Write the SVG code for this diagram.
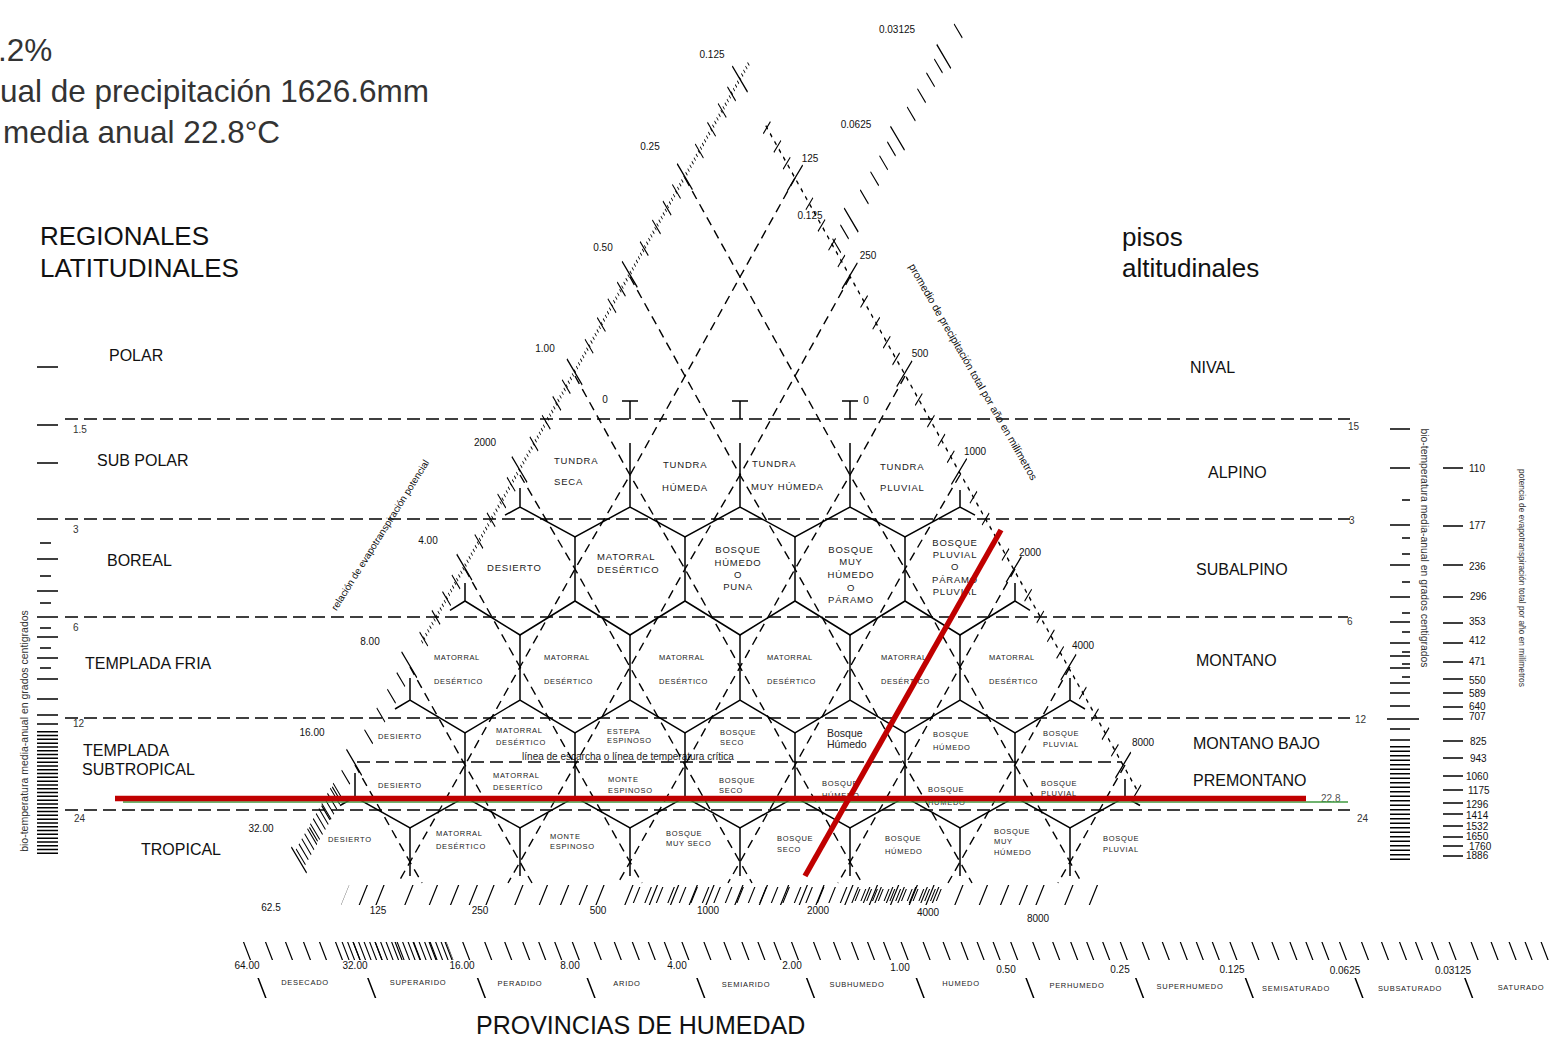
<svg xmlns="http://www.w3.org/2000/svg" width="1560" height="1038" viewBox="0 0 1560 1038">
<style>
text{font-family:"Liberation Sans",Arial,sans-serif;fill:#111;stroke:none}
.top{font-size:31.5px;fill:#333}
.big{font-size:26px}
.reg{font-size:16px}
.num{font-size:10px;fill:#333}
.h1{font-size:9.5px;letter-spacing:.8px;fill:#222}
.h3{font-size:7.5px;letter-spacing:.6px;fill:#222}
.h4{font-size:7.5px;letter-spacing:.7px;fill:#222}
.bh{font-size:10.5px;fill:#222}
.hum{font-size:7.5px;letter-spacing:.7px;fill:#222;text-anchor:middle}
.m{text-anchor:middle}
.hex{fill:none;stroke:#000;stroke-width:1.5}
.lat{fill:none;stroke:#000;stroke-width:1.4;stroke-dasharray:9 6}
.hd{fill:none;stroke:#000;stroke-width:1.6;stroke-dasharray:13 6}
.tk{fill:none;stroke:#000}
</style>
<rect width="1560" height="1038" fill="#fff"/>

<g id="info">
<text class="top" x="-2" y="61">.2%</text>
<text class="top" x="0" y="102">ual de precipitación 1626.6mm</text>
<text class="top" x="3" y="143">media anual 22.8°C</text>
</g>

<g id="titles">
<text class="big" x="40" y="245">REGIONALES</text>
<text class="big" x="40" y="277">LATITUDINALES</text>
<text class="big" x="1122" y="246">pisos</text>
<text class="big" x="1122" y="277">altitudinales</text>
<text x="476" y="1034" style="font-size:25px">PROVINCIAS DE HUMEDAD</text>
</g>

<g id="regions-left">
<text class="reg" x="109" y="361">POLAR</text>
<text class="reg" x="97" y="466">SUB POLAR</text>
<text class="reg" x="107" y="566">BOREAL</text>
<text class="reg" x="85" y="669">TEMPLADA FRIA</text>
<text class="reg" x="83" y="756">TEMPLADA</text>
<text class="reg" x="82" y="775">SUBTROPICAL</text>
<text class="reg" x="141" y="855">TROPICAL</text>
</g>
<g id="regions-right">
<text class="reg" x="1190" y="373">NIVAL</text>
<text class="reg" x="1208" y="478">ALPINO</text>
<text class="reg" x="1196" y="575">SUBALPINO</text>
<text class="reg" x="1196" y="666">MONTANO</text>
<text class="reg" x="1193" y="749">MONTANO BAJO</text>
<text class="reg" x="1193" y="786">PREMONTANO</text>
</g>

<g id="bands">
<line class="hd" x1="65" y1="419" x2="1350" y2="419"/>
<line class="hd" x1="65" y1="519" x2="1350" y2="519"/>
<line class="hd" x1="65" y1="617" x2="1348" y2="617"/>
<line class="hd" x1="65" y1="718" x2="1350" y2="718"/>
<line class="hd" x1="65" y1="810" x2="1350" y2="810"/>
<line class="hd" x1="357" y1="762" x2="1122" y2="762"/>
<text class="num" x="73" y="433">1.5</text>
<text class="num" x="73" y="533">3</text>
<text class="num" x="73" y="631">6</text>
<text class="num" x="73" y="727">12</text>
<text class="num" x="74" y="822">24</text>
<text class="num" x="1348" y="430">15</text>
<text class="num" x="1349" y="524">3</text>
<text class="num" x="1347" y="625">6</text>
<text class="num" x="1355" y="723">12</text>
<text class="num" x="1357" y="822">24</text>
<text x="628" y="760" style="font-size:10px;text-anchor:middle;fill:#222">línea de escarcha o línea de temperatura crítica</text>
</g>

<g id="scale-left">
<path class="tk" stroke-width="1.6" d="M37 367H58M37 425H58M37 463H58M37 519H58M37 559H58M37 591H58M37 617H58M37 637H58M37 658H58M37 679H58M37 699H58M37 715H58M37 724H58M40 543H51M40 576H51M40 603H51M40 628H51M40 648H51M40 668H51"/>
<line class="tk" x1="47.5" y1="731" x2="47.5" y2="854" stroke-width="21" stroke-dasharray="1.5 2.3"/>
<text transform="translate(27.7,731) rotate(-90)" class="m" style="font-size:10.5px;fill:#333">bio-temperatura media-anual en grados centigrados</text>
</g>

<g id="scale-right">
<path class="tk" stroke-width="1.6" d="M1390 429H1410M1390 468H1410M1390 525H1410M1390 565H1410M1390 597H1410M1390 622H1410M1390 643H1410M1390 656H1410M1390 668H1410M1390 683H1410M1390 693H1410M1390 706H1410M1387 719H1419M1390 729H1410M1390 740H1410M1402 500H1410M1402 538H1410M1402 554H1410M1402 582H1410M1402 613H1410M1402 632H1410M1402 652H1410M1402 664H1410M1402 677H1410"/>
<line class="tk" x1="1400" y1="746" x2="1400" y2="860" stroke-width="20" stroke-dasharray="1.5 3"/>
<path class="tk" stroke-width="1.6" d="M1443 468H1463M1443 526H1463M1443 565H1463M1443 597H1463M1443 623H1463M1443 643H1463M1443 662H1463M1443 679H1463M1443 693H1463M1443 707H1463M1443 719H1463M1443 741H1463M1443 758H1463M1443 776H1463M1443 790H1463M1443 803H1463M1443 814H1463M1443 826H1463M1443 837H1463M1443 846H1463M1443 856H1463"/>
<text transform="translate(1421.3,548) rotate(90)" class="m" style="font-size:10.4px;fill:#333">bio-temperatura media-anual en grados centigrados</text>
<text transform="translate(1518.5,578) rotate(90)" class="m" style="font-size:8.4px;fill:#333">potencia de evapotranspiración total por año en milímetros</text>
<g class="num">
<text x="1469" y="471.5">110</text><text x="1469" y="528.5">177</text><text x="1469" y="570">236</text><text x="1470" y="600">296</text>
<text x="1469" y="625">353</text><text x="1469" y="643.5">412</text><text x="1469" y="665">471</text><text x="1469" y="683.5">550</text>
<text x="1469" y="696.5">589</text><text x="1469" y="710">640</text><text x="1469" y="719.5">707</text><text x="1470" y="744.5">825</text>
<text x="1470" y="761.5">943</text><text x="1466" y="780">1060</text><text x="1468" y="793.5">1175</text><text x="1466" y="807.5">1296</text>
<text x="1466" y="818.5">1414</text><text x="1466" y="829.5">1532</text><text x="1466" y="840">1650</text><text x="1469" y="849.5">1760</text><text x="1466" y="859">1886</text>
</g>
</g>

<g id="edge-ticks">
<g class="tk" transform="translate(299,860) rotate(-60.55) skewX(-30)">
<line x1="250" y1="0" x2="915" y2="0" stroke-width="3" stroke-dasharray="1 3.2"/>
<line x1="0" y1="0" x2="900" y2="0" stroke-width="14" stroke-dasharray="0 28.85 1.3 23.6 1.3 20.3 1.3 17.8 1.3 16.35"/>
<line x1="-0.75" y1="0" x2="900" y2="0" stroke-width="26" stroke-dasharray="1.5 110.6"/>
<line x1="3" y1="0" x2="82" y2="0" stroke-width="16" stroke-dasharray="1.2 4.6"/>
</g>
<g class="tk" transform="translate(795,178) rotate(60.8) skewX(30)">
<line x1="-60" y1="0" x2="705" y2="0" stroke-width="1.4" stroke-dasharray="4 5"/>
<line x1="-60" y1="0" x2="705" y2="0" stroke-width="12" stroke-dasharray="0 28.85 1.3 23.6 1.3 20.3 1.3 17.8 1.3 16.35" stroke-dashoffset="52.1"/>
<line x1="-0.75" y1="0" x2="705" y2="0" stroke-width="26" stroke-dasharray="1.5 110.6"/>
</g>
<g class="tk" transform="translate(832,254) rotate(-60.5) skewX(-30)">
<line x1="0" y1="0" x2="262" y2="0" stroke-width="14" stroke-dasharray="0 24.7 1.3 19.6 1.3 17 1.3 14.6 1.3 14.2" stroke-dashoffset="55"/>
<line x1="0" y1="0" x2="262" y2="0" stroke-width="24" stroke-dasharray="1.5 92.5" stroke-dashoffset="55.75"/>
</g>
<g class="tk" transform="translate(0,895) skewX(-22)">
<line x1="345" y1="0" x2="1095" y2="0" stroke-width="20" stroke-dasharray="1.3 27.6 1.3 23.2 1.3 19.9 1.3 17.4 1.3 15.4" stroke-dashoffset="75.65"/>
<line x1="636" y1="0" x2="943" y2="0" stroke-width="16" stroke-dasharray="1.2 10.3"/>
<line x1="857" y1="0" x2="940" y2="0" stroke-width="12" stroke-dasharray="1.1 4.7"/>
</g>
<g class="tk" transform="translate(0,951) skewX(21)">
<line x1="234" y1="0" x2="1560" y2="0" stroke-width="18" stroke-dasharray="1.3 20.7 1.3 18.7 1.3 16.7 1.3 14.7 1.3 14.7 1.3 16.3" stroke-dashoffset="97.25"/>
<line x1="345" y1="0" x2="450" y2="0" stroke-width="18" stroke-dasharray="1.2 4.3"/>
</g>
<g class="tk" transform="translate(0,988) skewX(21)">
<line x1="261.2" y1="0" x2="1475" y2="0" stroke-width="20" stroke-dasharray="1.6 108.1"/>
</g>
</g>

<g id="edge-labels" class="num">
<text class="m" x="712" y="57.5">0.125</text>
<text class="m" x="650" y="149.5">0.25</text>
<text class="m" x="603" y="250.5">0.50</text>
<text class="m" x="545" y="351.5">1.00</text>
<text class="m" x="485" y="445.5">2000</text>
<text class="m" x="428" y="543.5">4.00</text>
<text class="m" x="370" y="644.5">8.00</text>
<text class="m" x="312" y="735.5">16.00</text>
<text class="m" x="261" y="831.5">32.00</text>
<text class="m" x="810" y="161.5">125</text>
<text class="m" x="868" y="258.5">250</text>
<text class="m" x="920" y="356.5">500</text>
<text class="m" x="975" y="454.5">1000</text>
<text class="m" x="1030" y="555.5">2000</text>
<text class="m" x="1083" y="648.5">4000</text>
<text class="m" x="1143" y="745.5">8000</text>
<text class="m" x="810" y="218.5">0.125</text>
<text class="m" x="856" y="127.5">0.0625</text>
<text class="m" x="897" y="32.5">0.03125</text>
<text class="m" x="605" y="403">0</text>
<text class="m" x="866" y="404">0</text>
<text class="m" x="271" y="910.5">62.5</text>
<text class="m" x="378" y="913.5">125</text>
<text class="m" x="480" y="913.5">250</text>
<text class="m" x="598" y="913.5">500</text>
<text class="m" x="708" y="913.5">1000</text>
<text class="m" x="818" y="913.5">2000</text>
<text class="m" x="928" y="915.5">4000</text>
<text class="m" x="1038" y="921.5">8000</text>
<text class="m" x="247" y="969">64.00</text>
<text class="m" x="355" y="969">32.00</text>
<text class="m" x="462" y="969">16.00</text>
<text class="m" x="570" y="969">8.00</text>
<text class="m" x="677" y="969">4.00</text>
<text class="m" x="792" y="969">2.00</text>
<text class="m" x="900" y="971">1.00</text>
<text class="m" x="1006" y="973">0.50</text>
<text class="m" x="1120" y="973">0.25</text>
<text class="m" x="1232" y="973">0.125</text>
<text class="m" x="1345" y="974">0.0625</text>
<text class="m" x="1453" y="974">0.03125</text>
<text transform="translate(380,535) rotate(-58)" class="m" dy="3.5" style="font-size:9.8px">relación de evapotranspiración potencial</text>
<text transform="translate(973,372) rotate(60.2)" class="m" dy="3.5" style="font-size:10.5px">promedio de precipitación total por año en milímetros</text>
</g>

<g id="humidity-provinces">
<text class="hum" x="305" y="985">DESECADO</text>
<text class="hum" x="418" y="985">SUPERARIDO</text>
<text class="hum" x="520" y="986">PERADIDO</text>
<text class="hum" x="627" y="986">ARIDO</text>
<text class="hum" x="746" y="987">SEMIARIDO</text>
<text class="hum" x="857" y="987">SUBHUMEDO</text>
<text class="hum" x="961" y="986">HUMEDO</text>
<text class="hum" x="1077" y="988">PERHUMEDO</text>
<text class="hum" x="1190" y="989">SUPERHUMEDO</text>
<text class="hum" x="1296" y="991">SEMISATURADO</text>
<text class="hum" x="1410" y="991">SUBSATURADO</text>
<text class="hum" x="1521" y="990">SATURADO</text>
</g>

<g id="connectors">
<path class="lat" d="M685 178L740 277L795 376L850 475L905 569L960 667L1015 765L1070 862L1082 883"/>
<path class="lat" d="M630 277L685 376L740 475L795 569L850 667L905 765L960 862L972 883"/>
<path class="lat" d="M575 376L630 475L685 569L740 667L795 765L850 862L862 883"/>
<path class="lat" d="M520 475L575 569L630 667L685 765L740 862L752 883"/>
<path class="lat" d="M465 569L520 667L575 765L630 862L642 883"/>
<path class="lat" d="M410 667L465 765L520 862L532 883"/>
<path class="lat" d="M355 765L410 862L422 883"/>
<path class="lat" d="M795 178L740 277L685 376L630 475L575 569L520 667L465 765L410 862L398 883"/>
<path class="lat" d="M850 277L795 376L740 475L685 569L630 667L575 765L520 862L508 883"/>
<path class="lat" d="M905 376L850 475L795 569L740 667L685 765L630 862L618 883"/>
<path class="lat" d="M960 475L905 569L850 667L795 765L740 862L728 883"/>
<path class="lat" d="M1015 569L960 667L905 765L850 862L838 883"/>
<path class="lat" d="M1070 667L1015 765L960 862L948 883"/>
<path class="lat" d="M1125 765L1070 862L1058 883"/>
</g>

<g id="honeycomb">
<path class="hex" d="M622 401H638M630 401V419M732 401H748M740 401V419M842 401H858M850 401V419"/>
<path class="hex" d="M630 443V507M740 443V507M850 443V507M520 488V507M960 490V507M505 515.2L520 507L575 537L630 507L685 537L740 507L795 537L850 507L905 537L960 507L975 515.2"/>
<path class="hex" d="M575 537V601M685 537V601M795 537V601M905 537V601M465 583V601M1015 583V601M450 610.3L465 601L520 635L575 601L630 635L685 601L740 635L795 601L850 635L905 601L960 635L1015 601L1030 610.3"/>
<path class="hex" d="M520 635V700M630 635V700M740 635V700M850 635V700M960 635V700M410 678V700M1070 678V700M395 709L410 700L465 733L520 700L575 733L630 700L685 733L740 700L795 733L850 700L905 733L960 700L1015 733L1070 700L1085 709"/>
<path class="hex" d="M465 733V797M575 733V797M685 733V797M795 733V797M905 733V797M1015 733V797M355 773V797M1125 779V797M340 805.5L355 797L410 828L465 797L520 828L575 797L630 828L685 797L740 828L795 797L850 828L905 797L960 828L1015 797L1070 828L1125 797L1140 805.5"/>
<path class="hex" d="M410 828V876M520 828V876M630 828V876M740 828V876M850 828V876M960 828V876M1070 828V876"/>
</g>

<g id="zones-row1">
<g id="z-tundra-seca"><text class="h1" x="554" y="464">TUNDRA</text><text class="h1" x="554" y="485">SECA</text></g>
<g id="z-tundra-humeda"><text class="h1" x="663" y="468">TUNDRA</text><text class="h1" x="662" y="491">HÚMEDA</text></g>
<g id="z-tundra-muy-humeda"><text class="h1" x="752" y="467">TUNDRA</text><text class="h1" x="751" y="490">MUY HÚMEDA</text></g>
<g id="z-tundra-pluvial"><text class="h1" x="880" y="470">TUNDRA</text><text class="h1" x="880" y="491">PLUVIAL</text></g>
</g>
<g id="zones-row2">
<g id="z-desierto-b"><text class="h1" x="487" y="571">DESIERTO</text></g>
<g id="z-matorral-b"><text class="h1" x="597" y="559.5">MATORRAL</text><text class="h1" x="597" y="572.5">DESÉRTICO</text></g>
<g id="z-bh-puna"><text class="h1 m" x="738" y="552.5">BOSQUE</text><text class="h1 m" x="738" y="565.5">HÚMEDO</text><text class="h1 m" x="738" y="577.5">O</text><text class="h1 m" x="738" y="589.5">PUNA</text></g>
<g id="z-bmh-paramo"><text class="h1 m" x="851" y="552.5">BOSQUE</text><text class="h1 m" x="851" y="564.5">MUY</text><text class="h1 m" x="851" y="577.5">HÚMEDO</text><text class="h1 m" x="851" y="590.5">O</text><text class="h1 m" x="851" y="602.5">PÁRAMO</text></g>
<g id="z-bp-paramo"><text class="h1 m" x="955" y="545.5">BOSQUE</text><text class="h1 m" x="955" y="557.5">PLUVIAL</text><text class="h1 m" x="955" y="569.5">O</text><text class="h1 m" x="955" y="582.5">PÁRAMO</text><text class="h1 m" x="955" y="594.5">PLUVIAL</text></g>
</g>
<g id="zones-row3">
<g id="z-md-1"><text class="h3" x="434" y="660">MATORRAL</text><text class="h3" x="434" y="684">DESÉRTICO</text></g>
<g id="z-md-2"><text class="h3" x="544" y="660">MATORRAL</text><text class="h3" x="544" y="684">DESÉRTICO</text></g>
<g id="z-md-3"><text class="h3" x="659" y="660">MATORRAL</text><text class="h3" x="659" y="684">DESÉRTICO</text></g>
<g id="z-md-4"><text class="h3" x="767" y="660">MATORRAL</text><text class="h3" x="767" y="684">DESÉRTICO</text></g>
<g id="z-md-5"><text class="h3" x="881" y="660">MATORRAL</text><text class="h3" x="881" y="684">DESÉRTICO</text></g>
<g id="z-md-6"><text class="h3" x="989" y="660">MATORRAL</text><text class="h3" x="989" y="684">DESÉRTICO</text></g>
</g>
<g id="zones-row4">
<g id="z-mb-desierto"><text class="h4" x="378" y="739">DESIERTO</text></g>
<g id="z-mb-matorral"><text class="h4" x="496" y="733">MATORRAL</text><text class="h4" x="496" y="745">DESÉRTICO</text></g>
<g id="z-mb-estepa"><text class="h4" x="607" y="734">ESTEPA</text><text class="h4" x="607" y="743">ESPINOSO</text></g>
<g id="z-mb-bs"><text class="h4" x="720" y="735">BOSQUE</text><text class="h4" x="720" y="745">SECO</text></g>
<g id="z-mb-bh"><text class="bh" x="827" y="737">Bosque</text><text class="bh" x="827" y="748">Húmedo</text></g>
<g id="z-mb-bh2"><text class="h4" x="933" y="737">BOSQUE</text><text class="h4" x="933" y="750">HÚMEDO</text></g>
<g id="z-mb-bp"><text class="h4" x="1043" y="736">BOSQUE</text><text class="h4" x="1043" y="747">PLUVIAL</text></g>
<g id="z-pm-desierto"><text class="h4" x="378" y="788">DESIERTO</text></g>
<g id="z-pm-matorral"><text class="h4" x="493" y="778">MATORRAL</text><text class="h4" x="493" y="790">DESERTÍCO</text></g>
<g id="z-pm-monte"><text class="h4" x="608" y="782">MONTE</text><text class="h4" x="608" y="793">ESPINOSO</text></g>
<g id="z-pm-bs"><text class="h4" x="719" y="783">BOSQUE</text><text class="h4" x="719" y="793">SECO</text></g>
<g id="z-pm-bh"><text class="h4" x="822" y="786">BOSQUE</text><text class="h4" x="822" y="798">HÚMEDO</text></g>
<g id="z-pm-bh2"><text class="h4" x="928" y="792">BOSQUE</text><text class="h4" x="928" y="805">HÚMEDO</text></g>
<g id="z-pm-bp"><text class="h4" x="1041" y="786">BOSQUE</text><text class="h4" x="1041" y="796">PLUVIAL</text></g>
</g>
<g id="zones-row5">
<g id="z-t-desierto"><text class="h4" x="328" y="842">DESIERTO</text></g>
<g id="z-t-matorral"><text class="h4" x="436" y="836">MATORRAL</text><text class="h4" x="436" y="849">DESÉRTICO</text></g>
<g id="z-t-monte"><text class="h4" x="550" y="839">MONTE</text><text class="h4" x="550" y="849">ESPINOSO</text></g>
<g id="z-t-bms"><text class="h4" x="666" y="836">BOSQUE</text><text class="h4" x="666" y="846">MUY SECO</text></g>
<g id="z-t-bs"><text class="h4" x="777" y="841">BOSQUE</text><text class="h4" x="777" y="852">SECO</text></g>
<g id="z-t-bh"><text class="h4" x="885" y="841">BOSQUE</text><text class="h4" x="885" y="854">HÚMEDO</text></g>
<g id="z-t-bmh"><text class="h4" x="994" y="834">BOSQUE</text><text class="h4" x="994" y="844">MUY</text><text class="h4" x="994" y="855">HÚMEDO</text></g>
<g id="z-t-bp"><text class="h4" x="1103" y="841">BOSQUE</text><text class="h4" x="1103" y="852">PLUVIAL</text></g>
</g>

<g id="site-marks">
<text class="num" x="1321" y="802" style="fill:#555">22.8</text>
<line x1="123" y1="802" x2="1348" y2="802" stroke="#3f9a3f" stroke-width="1.4"/>
<line x1="115" y1="798.5" x2="1306" y2="798.5" stroke="#c00000" stroke-width="5.5"/>
<line x1="1001" y1="530" x2="805" y2="876" stroke="#c00000" stroke-width="5.5"/>
</g>
</svg>
